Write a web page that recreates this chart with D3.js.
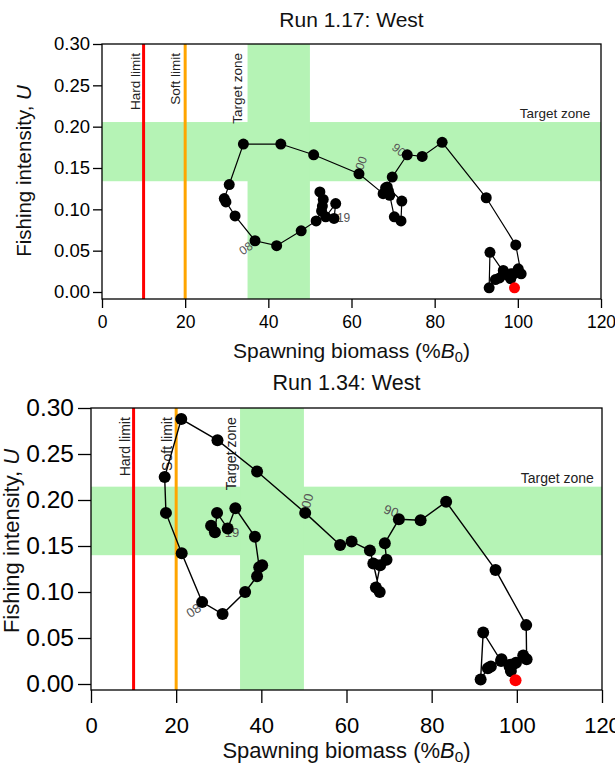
<!DOCTYPE html>
<html><head><meta charset="utf-8">
<script src="https://cdn.jsdelivr.net/npm/d3@7"></script>
<style>
body{margin:0;background:#fff}
svg{display:block}
text{font-family:"Liberation Sans",Arial,Helvetica,sans-serif}
</style>
</head><body>
<svg id="c" width="615" height="764"></svg>
<script>
// ---------- data ----------
const xTicks = [0, 20, 40, 60, 80, 100, 120];
const yTicks = [0, 0.05, 0.10, 0.15, 0.20, 0.25, 0.30];
const hardLimit = 10, softLimit = 20;
const targetB = [35, 50];
const titles = ["Run 1.17: West", "Run 1.34: West"];

const run117B = [99.2, 98.3, 99.0, 97.6, 96.5, 95.6, 94.6, 93.1, 93.3, 96.6, 98.4, 100.1, 100.8, 99.5, 92.4,
  81.8, 77.0, 73.4, 69.8, 68.6, 72.1, 71.9, 70.3, 69.2, 68.9, 68.2, 67.6, 61.8, 50.9, 43.0, 34.0,
  30.6, 29.4, 29.8, 32.0, 36.8, 42.0, 47.9, 51.5, 52.8, 53.2, 52.4, 53.0, 53.8, 56.2, 55.8];
const run117U = [0.005, 0.016, 0.022, 0.020, 0.026, 0.017, 0.015, 0.005, 0.048, 0.024, 0.022, 0.028, 0.022, 0.057, 0.114,
  0.181, 0.164, 0.166, 0.139, 0.127, 0.110, 0.086, 0.091, 0.117, 0.122, 0.126, 0.119, 0.143, 0.166, 0.179, 0.179,
  0.130, 0.113, 0.109, 0.092, 0.062, 0.056, 0.074, 0.086, 0.098, 0.112, 0.121, 0.104, 0.091, 0.107, 0.089];
const run117TargetU = [0.134, 0.2056];

const run134B = [99.7, 98.6, 99.0, 98.3, 96.4, 93.9, 93.2, 91.5, 92.1, 96.3, 98.5, 99.8, 101.5, 102.3, 102.2,
  95.0, 83.4, 77.4, 72.3, 69.0, 69.4, 67.9, 66.9, 67.8, 66.3, 65.5, 61.2, 58.5, 50.3, 39.0, 29.7, 21.2,
  17.3, 17.6, 21.3, 26.1, 30.9, 36.2, 39.0, 40.2, 39.5, 38.5, 33.9, 32.1, 29.6, 29.1, 28.2];
const run134U = [0.004, 0.014, 0.021, 0.019, 0.027, 0.019, 0.017, 0.005, 0.056, 0.025, 0.021, 0.023, 0.031, 0.027, 0.064,
  0.124, 0.198, 0.178, 0.179, 0.153, 0.135, 0.129, 0.105, 0.100, 0.131, 0.145, 0.155, 0.151, 0.186, 0.231, 0.265, 0.288,
  0.225, 0.186, 0.142, 0.089, 0.076, 0.100, 0.117, 0.129, 0.127, 0.160, 0.191, 0.169, 0.186, 0.165, 0.172];
const run134TargetU = [0.140, 0.2145];

const yearText117 = ["90", "00", "08", "19"];
const yearB117 = [71.4, 62.3, 34.6, 58.1];
const yearU117 = [0.172, 0.156, 0.053, 0.090];
const yearRot117 = [40, -70, -35, 0];

const yearText134 = ["90", "00", "08", "19"];
const yearB134 = [70.5, 50.8, 24.1, 33.1];
const yearU134 = [0.188, 0.199, 0.080, 0.165];
const yearRot134 = [20, -75, -35, 0];

const zoneText = ["Hard limit", "Soft limit", "Target zone"];

// ---------- drawing ----------
const svg = d3.select("#c");

function drawPanel(cfg, B, U, targetU, yText, yB, yU, yRot) {
  const g = svg.append("g");
  const x = d3.scaleLinear().domain([0, 120]).range([cfg.left, cfg.right]);
  const y = d3.scaleLinear().domain([0, 0.30]).range([cfg.y0, cfg.y30]);
  const top = cfg.y30, bottom = cfg.bottom;
  const green = "#b5f3b5";

  // target zones
  g.append("rect").attr("x", cfg.left).attr("width", cfg.right - cfg.left)
    .attr("y", y(targetU[1])).attr("height", y(targetU[0]) - y(targetU[1])).attr("fill", green);
  g.append("rect").attr("x", x(targetB[0])).attr("width", x(targetB[1]) - x(targetB[0]))
    .attr("y", top).attr("height", bottom - top).attr("fill", green);

  // limit lines
  g.append("line").attr("x1", x(hardLimit)).attr("x2", x(hardLimit)).attr("y1", top).attr("y2", bottom)
    .attr("stroke", "#ff0000").attr("stroke-width", 3);
  g.append("line").attr("x1", x(softLimit)).attr("x2", x(softLimit)).attr("y1", top).attr("y2", bottom)
    .attr("stroke", "#ffa500").attr("stroke-width", 3);

  // zone labels (vertical)
  cfg.vLabB.forEach((b, i) => {
    g.append("text").attr("transform", `translate(${x(b)},${y(cfg.vLabTopU)}) rotate(-90)`)
      .attr("text-anchor", "end").attr("dy", "0.35em")
      .attr("font-size", cfg.labFont).attr("fill", "#222").text(zoneText[i]);
  });
  g.append("text").attr("x", x(cfg.hLabB)).attr("y", y(cfg.hLabU)).attr("dy", "0.35em")
    .attr("text-anchor", "end").attr("font-size", cfg.labFont).attr("fill", "#222").text("Target zone");

  // box
  g.append("rect").attr("x", cfg.left).attr("y", top).attr("width", cfg.right - cfg.left)
    .attr("height", bottom - top).attr("fill", "none").attr("stroke", "#000").attr("stroke-width", 1.3);

  // axes
  const ya = g.append("g").attr("transform", `translate(${cfg.left},0)`)
    .call(d3.axisLeft(y).tickValues(yTicks).tickFormat(d3.format(".2f"))
      .tickSize(cfg.yTickLen).tickPadding(cfg.yTickPad));
  ya.select(".domain").remove();
  ya.selectAll("line").attr("stroke-width", 1.3);
  ya.selectAll("text").attr("font-size", cfg.yTickFont).attr("fill", "#000")
    .style("font-family", '"Liberation Sans",Arial,sans-serif');

  const xa = g.append("g").attr("transform", `translate(0,${bottom})`)
    .call(d3.axisBottom(x).tickValues(xTicks).tickFormat(d3.format("d"))
      .tickSize(cfg.xTickLen).tickPadding(cfg.xTickPad));
  xa.select(".domain").remove();
  xa.selectAll("line").attr("stroke-width", 1.3);
  xa.selectAll("text").attr("font-size", cfg.xTickFont).attr("fill", "#000")
    .style("font-family", '"Liberation Sans",Arial,sans-serif');

  // titles
  g.append("text").attr("x", (cfg.left + cfg.right) / 2).attr("y", cfg.titleY)
    .attr("text-anchor", "middle").attr("font-size", cfg.titleFont).attr("fill", "#111").text(titles[cfg.idx]);

  const xt = g.append("text").attr("x", (cfg.left + cfg.right) / 2).attr("y", cfg.xTitleY)
    .attr("text-anchor", "middle").attr("font-size", cfg.axTitleFont).attr("fill", "#111");
  xt.append("tspan").text("Spawning biomass (%");
  xt.append("tspan").attr("font-style", "italic").text("B");
  xt.append("tspan").attr("font-size", cfg.axTitleFont * 0.7).attr("dy", cfg.axTitleFont * 0.2).text("0");
  xt.append("tspan").attr("dy", -cfg.axTitleFont * 0.2).text(")");

  const yt = g.append("text").attr("transform", `translate(${cfg.yTitleX},${cfg.yTitleY}) rotate(-90)`)
    .attr("text-anchor", "middle").attr("dy", "0.35em").attr("font-size", cfg.yTitleFont).attr("fill", "#111");
  yt.append("tspan").text("Fishing intensity, ");
  yt.append("tspan").attr("font-style", "italic").text("U");

  // year labels
  yText.forEach((t, i) => {
    g.append("text").attr("transform", `translate(${x(yB[i])},${y(yU[i])}) rotate(${yRot[i]})`)
      .attr("text-anchor", "middle").attr("dy", "0.35em").attr("font-size", cfg.yearFont)
      .attr("fill", "#555").text(t);
  });

  // trajectory
  const pts = B.map((b, i) => [b, U[i]]);
  g.append("path").datum(pts)
    .attr("d", d3.line().x(d => x(d[0])).y(d => y(d[1])))
    .attr("fill", "none").attr("stroke", "#000").attr("stroke-width", cfg.lineW);
  g.selectAll("circle.pt").data(pts.slice(1)).join("circle").attr("class", "pt")
    .attr("cx", d => x(d[0])).attr("cy", d => y(d[1])).attr("r", cfg.ptR).attr("fill", "#000");
  g.append("circle").attr("cx", x(pts[0][0])).attr("cy", y(pts[0][1])).attr("r", cfg.ptR).attr("fill", "#ff0000");
}

drawPanel({
  idx: 0, left: 102, right: 601, y30: 44, y0: 292, bottom: 299,
  yTickLen: 9, yTickPad: 3, yTickFont: 18.5, xTickLen: 9, xTickPad: 8, xTickFont: 17.5,
  titleY: 27, titleFont: 21, xTitleY: 358, axTitleFont: 21, yTitleX: 24, yTitleY: 171, yTitleFont: 20.5,
  vLabB: [7.9, 17.5, 32.5], vLabTopU: 0.289, hLabB: 117.4, hLabU: 0.2165, labFont: 13.5,
  yearFont: 12, lineW: 1.2, ptR: 5.5
}, run117B, run117U, run117TargetU, yearText117, yearB117, yearU117, yearRot117);

drawPanel({
  idx: 1, left: 91, right: 602, y30: 408, y0: 684, bottom: 690,
  yTickLen: 13, yTickPad: 4, yTickFont: 24.5, xTickLen: 13, xTickPad: 14, xTickFont: 22,
  titleY: 390, titleFont: 21.5, xTitleY: 758, axTitleFont: 22, yTitleX: 11, yTitleY: 541, yTitleFont: 22,
  vLabB: [8.1, 17.8, 32.8], vLabTopU: 0.290, hLabB: 118.1, hLabU: 0.224, labFont: 14,
  yearFont: 13, lineW: 1.4, ptR: 6
}, run134B, run134U, run134TargetU, yearText134, yearB134, yearU134, yearRot134);
</script>
</body></html>
